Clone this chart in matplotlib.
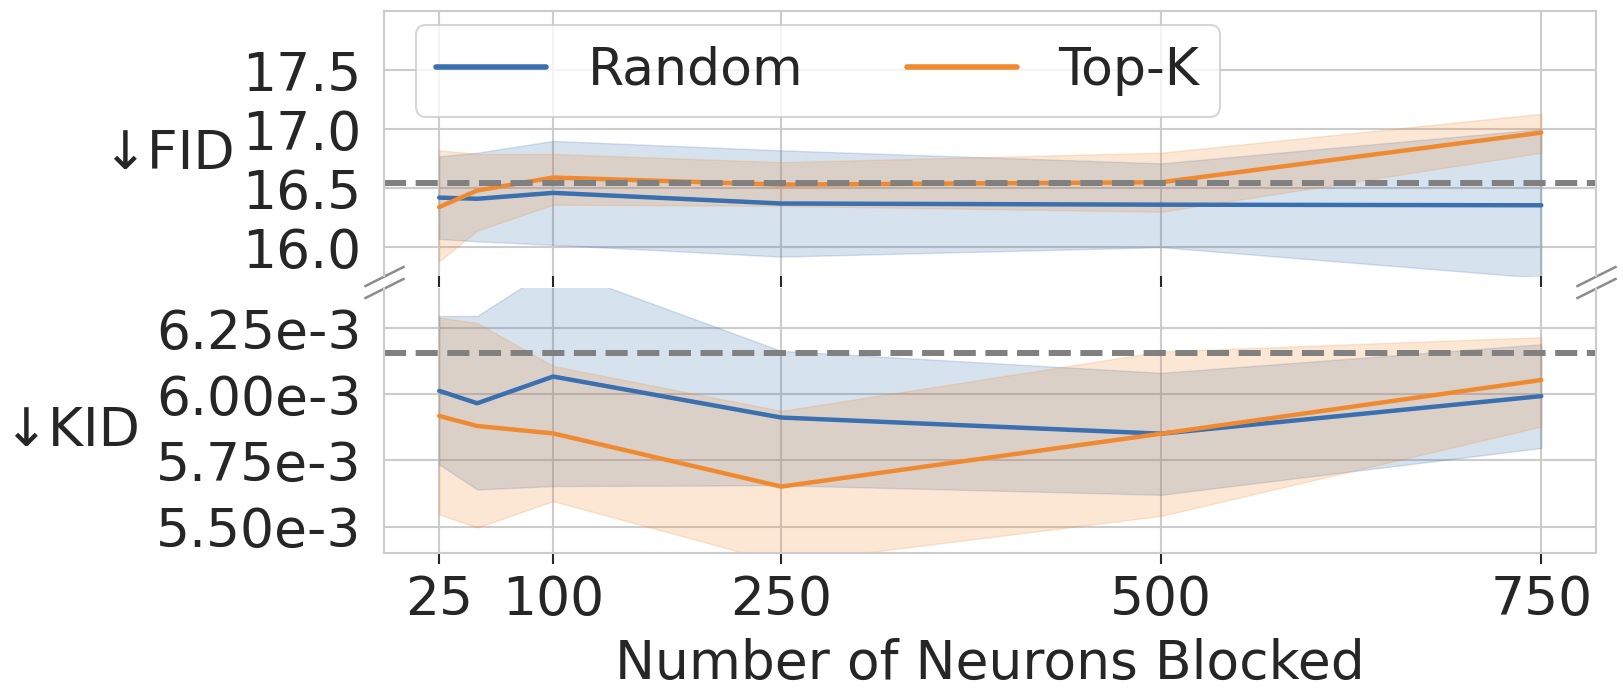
import matplotlib
matplotlib.use("Agg")
import matplotlib.pyplot as plt
import seaborn as sns

sns.set_style("whitegrid")
plt.rcParams["font.family"] = ["DejaVu Sans"]

# number of neurons blocked
neurons = [25, 50, 100, 250, 500, 750]
xtick_vals = [25, 100, 250, 500, 750]

# FID (mean and band) per method
fid_rand = [16.42, 16.41, 16.46, 16.37, 16.36, 16.355]
fid_rand_lo = [16.07, 16.05, 16.02, 15.92, 16.00, 15.74]
fid_rand_hi = [16.77, 16.80, 16.90, 16.82, 16.71, 17.00]
fid_topk = [16.34, 16.48, 16.59, 16.53, 16.55, 16.97]
fid_topk_lo = [15.88, 16.14, 16.36, 16.35, 16.30, 16.80]
fid_topk_hi = [16.82, 16.79, 16.79, 16.72, 16.80, 17.13]
fid_base = 16.54
fid_ticks = [16.0, 16.5, 17.0, 17.5]

# KID in units of 1e-3
kid_rand = [6.013, 5.966, 6.067, 5.912, 5.851, 5.993]
kid_rand_lo = [5.735, 5.64, 5.653, 5.656, 5.62, 5.797]
kid_rand_hi = [6.296, 6.296, 6.48, 6.164, 6.081, 6.189]
kid_topk = [5.918, 5.88, 5.852, 5.651, 5.851, 6.054]
kid_topk_lo = [5.546, 5.496, 5.596, 5.362, 5.54, 5.878]
kid_topk_hi = [6.29, 6.27, 6.107, 5.937, 6.162, 6.216]
kid_base = 6.155
kid_ticks = [5.50, 5.75, 6.00, 6.25]

blue = "#3A6FB0"
orange = "#F08A30"
fs = 38.5

fig, (ax1, ax2) = plt.subplots(2, 1, sharex=True, figsize=(16.24, 6.9), dpi=100)
fig.subplots_adjust(left=0.2365, right=0.983, top=0.984, bottom=0.1986, hspace=0.049)

scale = 1e-3
kid = [[v * scale for v in s] for s in
       (kid_rand, kid_rand_lo, kid_rand_hi, kid_topk, kid_topk_lo, kid_topk_hi)]

for ax, data, base in [
    (ax1, (fid_rand, fid_rand_lo, fid_rand_hi, fid_topk, fid_topk_lo, fid_topk_hi), fid_base),
    (ax2, kid, kid_base * scale),
]:
    r, rlo, rhi, t, tlo, thi = data
    ax.fill_between(neurons, rlo, rhi, color=blue, alpha=0.2)
    ax.fill_between(neurons, tlo, thi, color=orange, alpha=0.2)
    ax.plot(neurons, r, color=blue, lw=3.2, label="Random")
    ax.plot(neurons, t, color=orange, lw=3.2, label="Top-K")
    ax.axhline(base, color="#808080", ls="--", lw=4.3)
    ax.grid(True, color="#cccccc", lw=1.5)
    for s in ax.spines.values():
        s.set_color("#cccccc")
        s.set_linewidth(1.5)
    ax.tick_params(axis="both", labelsize=fs, colors="#262626")
    ax.tick_params(axis="y", pad=13)
    ax.tick_params(axis="x", bottom=True, length=8, width=1.5, pad=7, color="#262626")

ax1.set_ylim(15.76, 18.0)
ax1.set_yticks(fid_ticks)
ax1.set_yticklabels([f"{v:.1f}" for v in fid_ticks])
ax2.set_ylim(5.40e-3, 6.40e-3)
ax2.set_yticks([v * scale for v in kid_ticks])
ax2.set_yticklabels([f"{v:.2f}e-3" for v in kid_ticks])

ax1.spines["bottom"].set_visible(False)
ax2.spines["top"].set_visible(False)
ax1.tick_params(labelbottom=False)

ax2.set_xticks(xtick_vals)
ax2.set_xticklabels([str(v) for v in xtick_vals])
ax2.set_xlabel("Number of Neurons Blocked", fontsize=fs, color="#262626", labelpad=9)

ax1.set_ylabel("↓FID", fontsize=fs, rotation=0, ha="right", va="center", labelpad=5, color="#262626")
ax2.set_ylabel("↓KID", fontsize=fs, rotation=0, ha="right", va="center", labelpad=11, color="#262626")
ax1.yaxis.label.set_y(0.46)
ax2.yaxis.label.set_y(0.46)

leg = ax1.legend(loc="upper left", bbox_to_anchor=(0.026, 0.947), borderaxespad=0,
                 ncol=2, fontsize=37.5, handlelength=2.1, columnspacing=2.0,
                 handletextpad=0.8, frameon=True)
leg.get_frame().set_edgecolor("#cccccc")
leg.get_frame().set_linewidth(1.5)
for line in leg.get_lines():
    line.set_linewidth(4)

# broken axis marks
d = 0.5
kw = dict(marker=[(-1, -d), (1, d)], markersize=29, linestyle="none",
          color="#8c8c8c", mec="#8c8c8c", mew=1.8, clip_on=False)
ax1.plot([0, 1], [0, 0], transform=ax1.transAxes, **kw)
ax2.plot([0, 1], [1, 1], transform=ax2.transAxes, **kw)

plt.savefig("out.png", dpi=100)
